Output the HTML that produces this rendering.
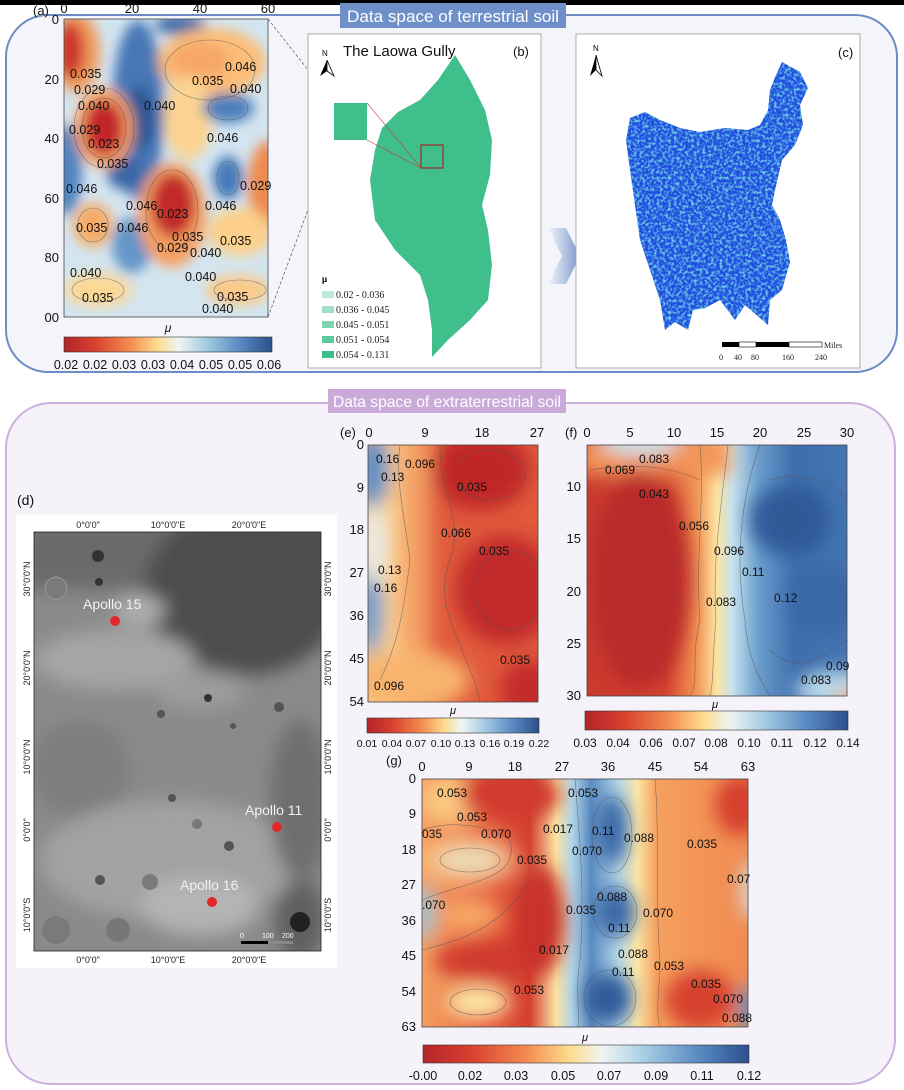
<!DOCTYPE html>
<html><head><meta charset="utf-8"><style>
html,body{margin:0;padding:0;background:#fff;}
svg{display:block;font-family:"Liberation Sans",sans-serif;}
</style></head><body>
<svg width="904" height="1090" viewBox="0 0 904 1090" xmlns="http://www.w3.org/2000/svg">
<defs>
<filter id="bl" x="-30%" y="-30%" width="160%" height="160%"><feGaussianBlur stdDeviation="9"/></filter>
<filter id="bla" x="-30%" y="-30%" width="160%" height="160%"><feGaussianBlur stdDeviation="6"/></filter>
<filter id="tex" x="0" y="0" width="100%" height="100%">
<feTurbulence type="fractalNoise" baseFrequency="0.35" numOctaves="2" seed="3" result="n"/>
<feColorMatrix in="n" type="matrix" values="0 0 0 0 0.2  0 0 0 0 0.8  0 0 0 0 0.85  0 0 0 2.2 -1.0" result="c"/>
<feComposite in="c" in2="SourceGraphic" operator="in" result="ci"/>
<feMerge><feMergeNode in="SourceGraphic"/><feMergeNode in="ci"/></feMerge>
</filter>
<linearGradient id="cb" x1="0" x2="1" y1="0" y2="0">
<stop offset="0" stop-color="#b3252a"/><stop offset="0.15" stop-color="#d8412f"/><stop offset="0.32" stop-color="#f48d52"/><stop offset="0.45" stop-color="#fddc8e"/><stop offset="0.55" stop-color="#eef5f2"/><stop offset="0.68" stop-color="#a6cde3"/><stop offset="0.84" stop-color="#5a8cc3"/><stop offset="1" stop-color="#2c4f8a"/>
</linearGradient>
<linearGradient id="fg" x1="0" x2="1" y1="0" y2="0">
<stop offset="0" stop-color="#c93a2e"/><stop offset="0.3" stop-color="#d4432f"/><stop offset="0.42" stop-color="#f29455"/><stop offset="0.5" stop-color="#fde3a0"/><stop offset="0.56" stop-color="#c4e1ee"/><stop offset="0.66" stop-color="#6b9dcc"/><stop offset="0.8" stop-color="#3e6ead"/><stop offset="1" stop-color="#4474b2"/>
</linearGradient>
<linearGradient id="gg" x1="0" x2="1" y1="0" y2="0">
<stop offset="0" stop-color="#f4a060"/><stop offset="0.22" stop-color="#e4593c"/><stop offset="0.33" stop-color="#d33e2f"/><stop offset="0.41" stop-color="#fde3a0"/><stop offset="0.46" stop-color="#b1d5e8"/><stop offset="0.52" stop-color="#5b8cc3"/><stop offset="0.6" stop-color="#b4d7e8"/><stop offset="0.66" stop-color="#fde6a6"/><stop offset="0.72" stop-color="#f5a05e"/><stop offset="1" stop-color="#f08a50"/>
</linearGradient>
<linearGradient id="arr" x1="0" x2="1"><stop offset="0" stop-color="#f3f5fb"/><stop offset="1" stop-color="#6f8fc4"/></linearGradient>
<clipPath id="ca"><rect x="64" y="19" width="204" height="298"/></clipPath>
<clipPath id="ce"><rect x="368" y="445" width="170" height="257"/></clipPath>
<clipPath id="cf"><rect x="587" y="445" width="260" height="251"/></clipPath>
<clipPath id="cg"><rect x="422" y="779" width="326" height="248"/></clipPath>
<clipPath id="cd"><rect x="34" y="532" width="287" height="419"/></clipPath>
</defs>
<rect width="904" height="1090" fill="#fff"/>
<rect width="904" height="5" fill="#000"/>
<!-- top panel -->
<rect x="6" y="15" width="891" height="357" rx="42" fill="#f3f5fb" stroke="#6c8cc4" stroke-width="2"/>
<rect x="340" y="3" width="226" height="25" fill="#6f8fc8"/>
<text x="453" y="22" font-size="16.5" fill="#fff" text-anchor="middle" textLength="212" lengthAdjust="spacingAndGlyphs">Data space of terrestrial soil</text>
<!-- bottom panel -->
<rect x="6" y="403" width="889" height="681" rx="45" fill="#f5f2fa" stroke="#cdb0dc" stroke-width="2"/>
<rect x="328" y="389" width="238" height="24" fill="#c9aad9"/>
<text x="447" y="407" font-size="16" fill="#fff" text-anchor="middle" textLength="228" lengthAdjust="spacingAndGlyphs">Data space of extraterrestrial soil</text>

<!-- (a) -->
<g clip-path="url(#ca)">
<rect x="64" y="19" width="204" height="298" fill="#d3e5f0"/>
<g filter="url(#bla)">
<ellipse cx="138" cy="110" rx="26" ry="90" fill="#4677b6"/>
<ellipse cx="140" cy="118" rx="15" ry="32" fill="#2d5795"/>
<ellipse cx="125" cy="172" rx="18" ry="18" fill="#3a66a6"/>
<ellipse cx="66" cy="170" rx="16" ry="45" fill="#4f83bf"/>
<ellipse cx="132" cy="245" rx="20" ry="28" fill="#6396c8"/>
<ellipse cx="180" cy="25" rx="25" ry="10" fill="#3d6aa8"/>
<ellipse cx="76" cy="52" rx="24" ry="40" fill="#f09a5a"/>
<ellipse cx="70" cy="50" rx="14" ry="28" fill="#cc352c"/>
<ellipse cx="104" cy="128" rx="30" ry="40" fill="#f6a466"/>
<ellipse cx="104" cy="128" rx="20" ry="28" fill="#c2282a"/>
<ellipse cx="212" cy="62" rx="54" ry="34" fill="#fbbd78"/>
<ellipse cx="200" cy="60" rx="30" ry="18" fill="#f7a868"/>
<ellipse cx="188" cy="118" rx="24" ry="42" fill="#fcd390"/>
<ellipse cx="228" cy="108" rx="26" ry="15" fill="#4d80bb"/>
<ellipse cx="228" cy="178" rx="15" ry="22" fill="#4579b8"/>
<ellipse cx="172" cy="215" rx="34" ry="52" fill="#f59f60"/>
<ellipse cx="173" cy="205" rx="22" ry="32" fill="#c22a2a"/>
<ellipse cx="268" cy="185" rx="20" ry="44" fill="#ef8a50"/>
<ellipse cx="240" cy="232" rx="32" ry="24" fill="#fcd08a"/>
<ellipse cx="93" cy="225" rx="20" ry="22" fill="#f6ac66"/>
<ellipse cx="98" cy="290" rx="34" ry="17" fill="#fcd896"/>
<ellipse cx="238" cy="290" rx="32" ry="15" fill="#fbc987"/>
</g>
<g fill="none" stroke="#555" stroke-width="0.6" opacity="0.7">
<ellipse cx="104" cy="128" rx="22" ry="30"/><ellipse cx="104" cy="128" rx="30" ry="40"/>
<ellipse cx="172" cy="210" rx="26" ry="40"/><ellipse cx="210" cy="70" rx="45" ry="30"/>
<ellipse cx="228" cy="108" rx="20" ry="12"/><ellipse cx="228" cy="178" rx="11" ry="17"/>
<ellipse cx="93" cy="225" rx="15" ry="17"/><ellipse cx="98" cy="290" rx="26" ry="12"/>
<ellipse cx="240" cy="290" rx="26" ry="10"/>
</g>
</g>
<rect x="64" y="19" width="204" height="298" fill="none" stroke="#444" stroke-width="0.8"/>
<g font-size="12.5" fill="#111">
<text x="70" y="78">0.035</text><text x="74" y="94">0.029</text><text x="78" y="110">0.040</text>
<text x="69" y="134">0.029</text><text x="88" y="148">0.023</text><text x="97" y="168">0.035</text>
<text x="66" y="193">0.046</text><text x="144" y="110">0.040</text><text x="192" y="85">0.035</text>
<text x="225" y="71">0.046</text><text x="230" y="93">0.040</text><text x="207" y="142">0.046</text>
<text x="240" y="190">0.029</text><text x="126" y="210">0.046</text><text x="157" y="218">0.023</text>
<text x="205" y="210">0.046</text><text x="117" y="232">0.046</text><text x="76" y="232">0.035</text>
<text x="172" y="241">0.035</text><text x="157" y="252">0.029</text><text x="190" y="257">0.040</text>
<text x="220" y="245">0.035</text><text x="70" y="277">0.040</text><text x="185" y="281">0.040</text>
<text x="82" y="302">0.035</text><text x="217" y="301">0.035</text><text x="202" y="313">0.040</text>
</g>
<g font-size="13" fill="#111">
<text x="33" y="15">(a)</text>
<text x="64" y="13" text-anchor="middle">0</text><text x="132" y="13" text-anchor="middle">20</text><text x="200" y="13" text-anchor="middle">40</text><text x="268" y="13" text-anchor="middle">60</text>
<text x="59" y="24" text-anchor="end">0</text><text x="59" y="84" text-anchor="end">20</text><text x="59" y="143" text-anchor="end">40</text><text x="59" y="203" text-anchor="end">60</text><text x="59" y="262" text-anchor="end">80</text><text x="59" y="322" text-anchor="end">00</text>
<text x="168" y="332" text-anchor="middle" font-style="italic" font-size="12">μ</text>
</g>
<rect x="64" y="337" width="208" height="15" fill="url(#cb)" stroke="#333" stroke-width="0.6"/>
<g font-size="12.5" fill="#111" text-anchor="middle">
<text x="66" y="369">0.02</text><text x="95" y="369">0.02</text><text x="124" y="369">0.03</text><text x="153" y="369">0.03</text><text x="182" y="369">0.04</text><text x="211" y="369">0.05</text><text x="240" y="369">0.05</text><text x="269" y="369">0.06</text>
</g>
<!-- dashed connectors -->
<line x1="268" y1="19" x2="334" y2="103" stroke="#555" stroke-width="0.7" stroke-dasharray="3,2"/>
<line x1="268" y1="317" x2="334" y2="140" stroke="#555" stroke-width="0.7" stroke-dasharray="3,2"/>

<!-- (b) -->
<rect x="308" y="34" width="233" height="334" fill="#fff" stroke="#999" stroke-width="0.8"/>
<path d="M455,55 L470,80 L485,110 L492,140 L490,175 L482,205 L488,230 L492,265 L488,300 L470,320 L448,340 L432,357 L432,330 L428,300 L420,275 L395,250 L375,220 L370,180 L375,150 L382,128 L398,112 L420,100 L438,80 Z" fill="#3fbf8c"/>
<rect x="334" y="103" width="33" height="37" fill="#3fbf8c"/>
<rect x="421" y="145" width="22" height="23" fill="none" stroke="#a02828" stroke-width="1.2"/>
<line x1="367" y1="103" x2="421" y2="168" stroke="#c04040" stroke-width="0.6"/>
<line x1="367" y1="140" x2="421" y2="168" stroke="#c04040" stroke-width="0.6"/>
<text x="322" y="56" font-size="8">N</text>
<path d="M327,60 L320,76 L327,71 Z" fill="#000"/><path d="M327,60 L334,76 L327,71 Z" fill="none" stroke="#000" stroke-width="0.8"/>
<text x="343" y="56" font-size="15" fill="#111">The Laowa Gully</text>
<text x="513" y="56" font-size="13" fill="#111">(b)</text>
<text x="322" y="282" font-size="9" font-family="Liberation Serif" font-weight="bold">μ</text>
<g font-family="Liberation Serif" font-size="10" fill="#222">
<rect x="322" y="291" width="12" height="7" fill="#bfeadb"/><text x="336" y="298">0.02 - 0.036</text>
<rect x="322" y="306" width="12" height="7" fill="#9fe0c6"/><text x="336" y="313">0.036 - 0.045</text>
<rect x="322" y="321" width="12" height="7" fill="#7fd4b0"/><text x="336" y="328">0.045 - 0.051</text>
<rect x="322" y="336" width="12" height="7" fill="#5cc89c"/><text x="336" y="343">0.051 - 0.054</text>
<rect x="322" y="351" width="12" height="7" fill="#3ebf8a"/><text x="336" y="358">0.054 - 0.131</text>
</g>
<!-- arrow -->
<path d="M548,228 L566,228 L580,256 L566,284 L548,284 L562,256 Z" fill="url(#arr)" opacity="0.9"/>
<!-- (c) -->
<rect x="576" y="34" width="284" height="334" fill="#fff" stroke="#999" stroke-width="0.8"/>
<text x="593" y="51" font-size="8">N</text>
<path d="M596,55 L590,76 L596,70 Z" fill="#000"/><path d="M596,55 L602,76 L596,70 Z" fill="none" stroke="#000" stroke-width="0.8"/>
<text x="838" y="57" font-size="13" fill="#111">(c)</text>
<path d="M782,62 L800,72 L808,88 L800,105 L803,125 L795,145 L782,160 L775,190 L772,205 L780,220 L786,240 L790,262 L782,290 L770,300 L768,325 L760,318 L745,305 L735,320 L720,300 L705,308 L693,310 L688,330 L675,322 L665,330 L660,300 L650,270 L640,240 L635,205 L630,170 L626,140 L630,118 L645,112 L660,120 L680,128 L700,132 L725,128 L748,130 L760,125 L768,110 L770,90 L776,75 Z" fill="#2050df" filter="url(#tex)"/>
<rect x="722" y="342" width="17" height="5" fill="#000"/><rect x="739" y="342" width="17" height="5" fill="#fff" stroke="#000" stroke-width="0.6"/><rect x="756" y="342" width="33" height="5" fill="#000"/><rect x="789" y="342" width="33" height="5" fill="#fff" stroke="#000" stroke-width="0.6"/>
<g font-family="Liberation Serif" font-size="8" fill="#222"><text x="824" y="348">Miles</text><text x="719" y="360">0</text><text x="734" y="360">40</text><text x="751" y="360">80</text><text x="782" y="360">160</text><text x="815" y="360">240</text></g>

<!-- (d) -->
<text x="17" y="505" font-size="14" fill="#111">(d)</text>
<rect x="16" y="515" width="321" height="453" fill="#fff"/>
<g clip-path="url(#cd)">
<rect x="34" y="532" width="287" height="419" fill="#8a8a8a"/>
<g filter="url(#bl)">
<rect x="20" y="520" width="320" height="70" fill="#6a6a6a"/>
<ellipse cx="245" cy="590" rx="100" ry="85" fill="#4e4e4e"/>
<rect x="180" y="520" width="160" height="90" fill="#4e4e4e"/>
<ellipse cx="115" cy="660" rx="80" ry="30" fill="#a6a6a6"/>
<ellipse cx="140" cy="610" rx="25" ry="15" fill="#b0b0b0"/>
<ellipse cx="200" cy="690" rx="45" ry="20" fill="#9c9c9c"/>
<ellipse cx="80" cy="770" rx="50" ry="50" fill="#7e7e7e"/>
<ellipse cx="170" cy="860" rx="130" ry="60" fill="#a2a2a2"/>
<ellipse cx="200" cy="905" rx="60" ry="30" fill="#b4b4b4"/>
<ellipse cx="300" cy="800" rx="30" ry="80" fill="#6e6e6e"/>
<ellipse cx="300" cy="920" rx="25" ry="40" fill="#5e5e5e"/>
</g>
<g fill="#555"><circle cx="98" cy="556" r="6" fill="#333"/><circle cx="99" cy="582" r="4" fill="#333"/><circle cx="56" cy="588" r="11" fill="#7a7a7a" stroke="#999"/><circle cx="161" cy="714" r="4"/><circle cx="279" cy="707" r="5"/><circle cx="172" cy="798" r="4"/><circle cx="229" cy="846" r="5"/><circle cx="150" cy="882" r="8" fill="#7a7a7a"/><circle cx="56" cy="930" r="14" fill="#7a7a7a"/><circle cx="118" cy="930" r="12" fill="#777"/><circle cx="300" cy="922" r="10" fill="#222"/><circle cx="100" cy="880" r="5"/><circle cx="233" cy="726" r="3"/><circle cx="208" cy="698" r="4" fill="#333"/><circle cx="197" cy="824" r="5" fill="#777"/></g>
</g>
<rect x="34" y="532" width="287" height="419" fill="none" stroke="#222" stroke-width="0.8"/>
<circle cx="115" cy="621" r="5" fill="#e0282a"/><circle cx="277" cy="827" r="5" fill="#e0282a"/><circle cx="212" cy="902" r="5" fill="#e0282a"/>
<g font-size="14" fill="#f2f2f2"><text x="83" y="609">Apollo 15</text><text x="245" y="815">Apollo 11</text><text x="180" y="890">Apollo 16</text></g>
<g font-size="7" fill="#fff"><text x="240" y="938">0</text><text x="262" y="938">100</text><text x="282" y="938">200</text></g>
<rect x="241" y="941" width="27" height="3" fill="#000"/><rect x="268" y="941" width="25" height="3" fill="#888"/>
<g font-size="9" fill="#222" text-anchor="middle">
<text x="88" y="528">0°0'0"</text><text x="168" y="528">10°0'0"E</text><text x="249" y="528">20°0'0"E</text>
<text x="88" y="963">0°0'0"</text><text x="168" y="963">10°0'0"E</text><text x="249" y="963">20°0'0"E</text>
</g>
<g font-size="9" fill="#222" text-anchor="middle">
<text transform="translate(30,579) rotate(-90)">30°0'0"N</text><text transform="translate(30,668) rotate(-90)">20°0'0"N</text><text transform="translate(30,757) rotate(-90)">10°0'0"N</text><text transform="translate(30,830) rotate(-90)">0°0'0"</text><text transform="translate(30,915) rotate(-90)">10°0'0"S</text>
<text transform="translate(331,579) rotate(-90)">30°0'0"N</text><text transform="translate(331,668) rotate(-90)">20°0'0"N</text><text transform="translate(331,757) rotate(-90)">10°0'0"N</text><text transform="translate(331,830) rotate(-90)">0°0'0"</text><text transform="translate(331,915) rotate(-90)">10°0'0"S</text>
</g>

<!-- (e) -->
<g clip-path="url(#ce)">
<rect x="368" y="445" width="170" height="257" fill="#e05a3c"/>
<g filter="url(#bl)">
<rect x="350" y="430" width="52" height="290" fill="#fbd08e"/>
<rect x="400" y="430" width="30" height="290" fill="#f4a064"/>
<ellipse cx="372" cy="470" rx="18" ry="38" fill="#5d8fc4"/>
<ellipse cx="370" cy="610" rx="14" ry="45" fill="#6b9dcc"/>
<ellipse cx="375" cy="545" rx="10" ry="40" fill="#e4f0f0"/>
<ellipse cx="410" cy="680" rx="60" ry="30" fill="#f8b46e"/>
<ellipse cx="480" cy="470" rx="50" ry="40" fill="#c02828"/>
<ellipse cx="505" cy="590" rx="50" ry="55" fill="#c12a2a"/>
<ellipse cx="530" cy="690" rx="30" ry="30" fill="#c42b2b"/>
</g>
<g fill="none" stroke="#555" stroke-width="0.6" opacity="0.7">
<path d="M400,445 C395,480 405,520 410,560 C405,600 400,640 380,680"/>
<path d="M440,445 C440,500 465,520 450,560 C430,610 470,650 480,702"/>
<ellipse cx="490" cy="475" rx="35" ry="25"/><ellipse cx="510" cy="590" rx="35" ry="40"/>
</g>
</g>
<rect x="368" y="445" width="170" height="257" fill="none" stroke="#444" stroke-width="0.8"/>
<g font-size="12" fill="#111">
<text x="376" y="463">0.16</text><text x="405" y="468">0.096</text><text x="381" y="481">0.13</text>
<text x="457" y="491">0.035</text><text x="441" y="537">0.066</text><text x="479" y="555">0.035</text>
<text x="378" y="574">0.13</text><text x="374" y="592">0.16</text><text x="500" y="664">0.035</text><text x="374" y="690">0.096</text>
</g>
<g font-size="13" fill="#111">
<text x="340" y="437">(e)</text>
<text x="369" y="437" text-anchor="middle">0</text><text x="425" y="437" text-anchor="middle">9</text><text x="482" y="437" text-anchor="middle">18</text><text x="537" y="437" text-anchor="middle">27</text>
<g text-anchor="end"><text x="364" y="449">0</text><text x="364" y="492">9</text><text x="364" y="534">18</text><text x="364" y="577">27</text><text x="364" y="620">36</text><text x="364" y="663">45</text><text x="364" y="706">54</text></g>
<text x="453" y="714" text-anchor="middle" font-style="italic" font-size="11">μ</text>
</g>
<rect x="367" y="718" width="172" height="15" fill="url(#cb)" stroke="#333" stroke-width="0.6"/>
<g font-size="10.5" fill="#111" text-anchor="middle">
<text x="367" y="747">0.01</text><text x="392" y="747">0.04</text><text x="416" y="747">0.07</text><text x="441" y="747">0.10</text><text x="465" y="747">0.13</text><text x="490" y="747">0.16</text><text x="514" y="747">0.19</text><text x="539" y="747">0.22</text>
</g>

<!-- (f) -->
<g clip-path="url(#cf)">
<rect x="587" y="445" width="260" height="251" fill="url(#fg)"/>
<g filter="url(#bl)">
<rect x="580" y="435" width="150" height="40" fill="#f2955a"/>
<ellipse cx="640" cy="440" rx="40" ry="15" fill="#c8e3ef"/>
<ellipse cx="640" cy="580" rx="50" ry="110" fill="#b92a2b"/>
<ellipse cx="790" cy="520" rx="40" ry="35" fill="#2f5a98"/>
<ellipse cx="825" cy="600" rx="35" ry="35" fill="#3a68a6"/>
<ellipse cx="840" cy="690" rx="45" ry="20" fill="#b8d8ea"/>
<ellipse cx="850" cy="700" rx="15" ry="10" fill="#f5b06c"/>
</g>
<g fill="none" stroke="#555" stroke-width="0.6" opacity="0.7">
<path d="M700,445 C705,500 695,560 700,620 C690,660 700,680 690,696"/>
<path d="M728,445 C722,500 712,560 716,620 C712,660 714,680 710,696"/>
<path d="M760,445 C740,500 735,560 745,620 C748,660 760,680 770,696"/>
<path d="M590,470 C620,465 660,462 700,480"/>
<path d="M770,480 C800,470 830,480 847,500 M770,650 C800,680 830,650 847,640"/>
</g>
</g>
<rect x="587" y="445" width="260" height="251" fill="none" stroke="#444" stroke-width="0.8"/>
<g font-size="12" fill="#111">
<text x="639" y="463">0.083</text><text x="605" y="474">0.069</text><text x="639" y="498">0.043</text>
<text x="679" y="530">0.056</text><text x="714" y="555">0.096</text><text x="742" y="576">0.11</text>
<text x="706" y="606">0.083</text><text x="774" y="602">0.12</text><text x="826" y="670">0.09</text><text x="801" y="684">0.083</text>
</g>
<g font-size="13" fill="#111">
<text x="565" y="437">(f)</text>
<g text-anchor="middle"><text x="587" y="437">0</text><text x="630" y="437">5</text><text x="674" y="437">10</text><text x="717" y="437">15</text><text x="760" y="437">20</text><text x="804" y="437">25</text><text x="847" y="437">30</text></g>
<g text-anchor="end"><text x="581" y="491">10</text><text x="581" y="543">15</text><text x="581" y="596">20</text><text x="581" y="648">25</text><text x="581" y="700">30</text></g>
<text x="715" y="708" text-anchor="middle" font-style="italic" font-size="11">μ</text>
</g>
<rect x="585" y="711" width="263" height="19" fill="url(#cb)" stroke="#333" stroke-width="0.6"/>
<g font-size="12" fill="#111" text-anchor="middle">
<text x="585" y="747">0.03</text><text x="618" y="747">0.04</text><text x="651" y="747">0.06</text><text x="684" y="747">0.07</text><text x="716" y="747">0.08</text><text x="749" y="747">0.10</text><text x="782" y="747">0.11</text><text x="815" y="747">0.12</text><text x="848" y="747">0.14</text>
</g>

<!-- (g) -->
<g clip-path="url(#cg)">
<rect x="422" y="779" width="326" height="248" fill="url(#gg)"/>
<g filter="url(#bl)">
<ellipse cx="450" cy="800" rx="30" ry="25" fill="#fbc880"/>
<ellipse cx="510" cy="795" rx="50" ry="25" fill="#d13a2e"/>
<ellipse cx="470" cy="860" rx="32" ry="14" fill="#d0e6ef"/>
<ellipse cx="470" cy="860" rx="50" ry="26" fill="#fbd594" opacity="0.6"/>
<ellipse cx="425" cy="912" rx="10" ry="28" fill="#9cc4df"/>
<ellipse cx="470" cy="915" rx="30" ry="15" fill="#f6a866"/>
<ellipse cx="490" cy="960" rx="55" ry="20" fill="#cf3a2e"/>
<ellipse cx="540" cy="920" rx="25" ry="55" fill="#c8302c"/>
<ellipse cx="478" cy="1002" rx="32" ry="16" fill="#fde6a6"/>
<ellipse cx="612" cy="830" rx="16" ry="35" fill="#3a68a6"/>
<ellipse cx="615" cy="912" rx="20" ry="25" fill="#3a68a6"/>
<ellipse cx="608" cy="998" rx="24" ry="25" fill="#2f5a98"/>
<ellipse cx="740" cy="805" rx="25" ry="30" fill="#d6402f"/>
<ellipse cx="700" cy="1000" rx="35" ry="30" fill="#d6432f"/>
<ellipse cx="750" cy="1010" rx="10" ry="25" fill="#5a8cc3"/>
<ellipse cx="750" cy="890" rx="8" ry="30" fill="#d6e8f0"/>
</g>
<g fill="none" stroke="#555" stroke-width="0.6" opacity="0.7">
<ellipse cx="470" cy="860" rx="30" ry="12"/><ellipse cx="478" cy="1002" rx="28" ry="13"/>
<ellipse cx="612" cy="835" rx="20" ry="38"/><ellipse cx="615" cy="912" rx="22" ry="26"/><ellipse cx="610" cy="998" rx="26" ry="28"/>
<path d="M575,779 C580,840 585,900 580,960 C575,990 580,1010 578,1027"/>
<path d="M655,779 C660,840 655,900 660,960 C660,990 655,1010 660,1027"/>
<path d="M422,830 C450,820 490,825 510,840 C520,880 470,880 422,900"/>
<path d="M422,950 C460,940 500,930 530,880"/>
</g>
</g>
<rect x="422" y="779" width="326" height="248" fill="none" stroke="#444" stroke-width="0.8"/>
<g font-size="12" fill="#111">
<text x="437" y="797">0.053</text><text x="568" y="797">0.053</text><text x="457" y="821">0.053</text>
<text x="422" y="838">035</text><text x="481" y="838">0.070</text><text x="543" y="833">0.017</text><text x="592" y="835">0.11</text>
<text x="624" y="842">0.088</text><text x="572" y="855">0.070</text><text x="687" y="848">0.035</text><text x="517" y="864">0.035</text>
<text x="727" y="883">0.07</text><text x="597" y="901">0.088</text><text x="422" y="909">.070</text><text x="566" y="914">0.035</text>
<text x="643" y="917">0.070</text><text x="608" y="932">0.11</text><text x="539" y="954">0.017</text><text x="618" y="958">0.088</text>
<text x="654" y="970">0.053</text><text x="612" y="976">0.11</text><text x="691" y="988">0.035</text><text x="514" y="994">0.053</text>
<text x="713" y="1003">0.070</text><text x="722" y="1022">0.088</text>
</g>
<g font-size="13" fill="#111">
<text x="386" y="765">(g)</text>
<g text-anchor="middle"><text x="422" y="771">0</text><text x="469" y="771">9</text><text x="515" y="771">18</text><text x="562" y="771">27</text><text x="608" y="771">36</text><text x="655" y="771">45</text><text x="701" y="771">54</text><text x="748" y="771">63</text></g>
<g text-anchor="end"><text x="416" y="783">0</text><text x="416" y="818">9</text><text x="416" y="854">18</text><text x="416" y="889">27</text><text x="416" y="925">36</text><text x="416" y="960">45</text><text x="416" y="996">54</text><text x="416" y="1031">63</text></g>
<text x="585" y="1041" text-anchor="middle" font-style="italic" font-size="11">μ</text>
</g>
<rect x="423" y="1045" width="326" height="18" fill="url(#cb)" stroke="#333" stroke-width="0.6"/>
<g font-size="12.5" fill="#111" text-anchor="middle">
<text x="423" y="1080">-0.00</text><text x="470" y="1080">0.02</text><text x="516" y="1080">0.03</text><text x="563" y="1080">0.05</text><text x="609" y="1080">0.07</text><text x="656" y="1080">0.09</text><text x="702" y="1080">0.11</text><text x="749" y="1080">0.12</text>
</g>
</svg>
</body></html>
